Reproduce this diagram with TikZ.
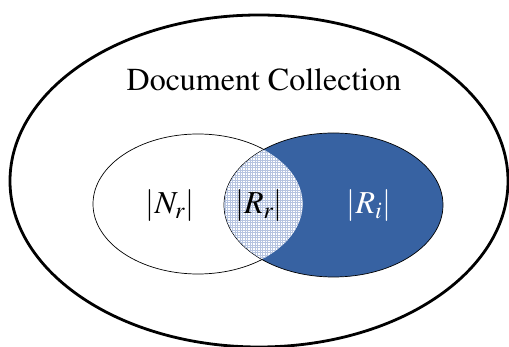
\documentclass[tikz,border=0pt]{standalone}
\usepackage[T1]{fontenc}
\usepackage{mathptmx}
\definecolor{setblue}{RGB}{55,98,162}
\definecolor{hatchblue}{RGB}{182,196,224}
\begin{document}
\begin{tikzpicture}[x=1pt,y=-1pt,
  outerset/.style={draw=black,line width=2.8pt},
  innerset/.style={draw=black,line width=0.7pt},
  hatchline/.style={draw=hatchblue,line width=0.45pt},
  biglabel/.style={font=\fontsize{32}{32}\selectfont,inner sep=0pt},
  setlabel/.style={font=\fontsize{32}{32}\selectfont,inner sep=0pt}]
  \useasboundingbox (0,0) rectangle (509,347);
  % whole collection
  \draw[outerset] (259,181) ellipse [x radius=249, y radius=166];
  \node[biglabel] (title) at (264,80) {Document Collection};
  % the two sets
  \draw[innerset,fill=white] (198,204) ellipse [x radius=105, y radius=70];
  \draw[innerset,fill=setblue] (333.5,205) ellipse [x radius=109.5, y radius=72];
  % overlap: fine cross-hatched region
  \begin{scope}
    \clip (198,204) ellipse [x radius=104.6, y radius=69.6];
    \clip (333.5,205) ellipse [x radius=109.1, y radius=71.6];
    \fill[white] (220,130) rectangle (310,280);
    \foreach \gx in {220,222.5,...,310} \draw[hatchline] (\gx,130) -- (\gx,280);
    \foreach \gy in {130,132.5,...,280} \draw[hatchline] (220,\gy) -- (310,\gy);
  \end{scope}
  \node[setlabel] (nr) at (170,206) {$|N_r|$};
  \node[setlabel] (rr) at (259,206) {$|R_r|$};
  \node[setlabel,text=white] (ri) at (369,206) {$|R_i|$};
\end{tikzpicture}
\end{document}
